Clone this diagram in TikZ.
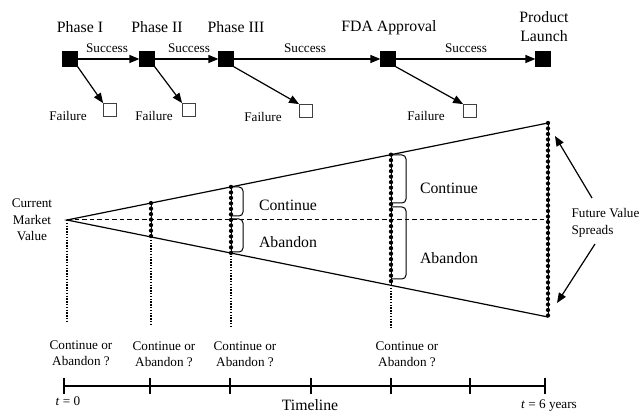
\documentclass[tikz,border=0pt]{standalone}
\usepackage{fontspec}
\setmainfont{Liberation Serif}
\usetikzlibrary{arrows.meta, positioning, calc}
\tikzset{
  bigtext/.style={inner sep=0pt, font=\fontsize{15.8}{19}\selectfont, align=center}
}
\tikzset{
  smalltext/.style={inner sep=0pt, font=\fontsize{13.2}{16.5}\selectfont, align=center}
}
\tikzset{
  phasebox/.style={draw, fill=black, minimum size=14pt, inner sep=0pt},
  failbox/.style={draw=black!75, fill=white, minimum size=13pt, inner sep=0pt, line width=0.8pt},
  dotchain/.style={line width=4.3pt, line cap=round, dash pattern=on 0pt off 5.5pt},
  thindots/.style={line width=1.4pt, dash pattern=on 1.4pt off 1.4pt},
  bracket/.style={line width=1pt, rounded corners=4pt}
}

\begin{document}
\begin{tikzpicture}[x=1pt, y=-1pt, >={Triangle[length=10pt,width=8pt]}, line width=1.2pt]
      \useasboundingbox (0,0) rectangle (643,414);
      % phases of the drug
      \node[phasebox] (p1) at (70,59) {};
      \node[phasebox] (p2) at (147,59) {};
      \node[phasebox] (p3) at (226,59) {};
      \node[phasebox] (p4) at (388,59) {};
      \node[phasebox] (p5) at (543,59) {};
      \node[bigtext] (n1) at (80,27) {Phase I};
      \node[bigtext] (n2) at (157,27) {Phase II};
      \node[bigtext] (n3) at (236,27) {Phase III};
      \node[bigtext] (n4) at (389,28) {FDA Approval};
      \node[bigtext] (n5) at (544,27) {Product\\Launch};
      \draw[->] (p1) -- (p2);
      \draw[->] (p2) -- (p3);
      \draw[->] (p3) -- (p4);
      \draw[->] (p4) -- (p5);
      \node[smalltext] (s1) at (107,48) {Success};
      \node[smalltext] (s2) at (189,48) {Success};
      \node[smalltext] (s3) at (305,48) {Success};
      \node[smalltext] (s4) at (466,48) {Success};
      % failures
      \node[failbox] (f1) at (110,110) {};
      \node[failbox] (f2) at (189,110) {};
      \node[failbox] (f3) at (306,111) {};
      \node[failbox] (f4) at (470,111) {};
      \draw[->] (p1.south east) -- (f1.north west);
      \draw[->] (p2.south east) -- (f2.north west);
      \draw[->] (p3.south east) -- (f3.north west);
      \draw[->] (p4.south east) -- (f4.north west);
      \node[smalltext] (x1) at (68,116) {Failure};
      \node[smalltext] (x2) at (154,116) {Failure};
      \node[smalltext] (x3) at (263,117) {Failure};
      \node[smalltext] (x4) at (426,116) {Failure};
      % value cone
      \coordinate (cmv) at (67,220);
      \coordinate (hi) at (548,123);
      \coordinate (lo) at (548,317);
      \coordinate (mid) at (548,220);
      \draw (hi) -- (cmv) -- (lo);
      \draw[line width=1pt, dash pattern=on 4.5pt off 3pt] (cmv) -- (mid);
      \foreach \x in {151,231,391,548} {
        \pgfmathsetmacro\h{(\x-67)/481*97}
        \draw[line width=0.8pt] (\x,220-\h) -- (\x,220+\h);
        \draw[dotchain] (\x,220-\h) -- (\x,220+\h);
      }
      \draw[thindots] (cmv) -- (67,322);
      \draw[thindots] (151,237) -- (151,325);
      \draw[thindots] (231,253) -- (231,328);
      \draw[thindots] (391,285) -- (391,328);
      \node[smalltext] (cm) at (32,220) {Current\\Market\\Value};
      % continue or abandon
      \draw[bracket] (231,187) -| (243,202) |- (231,216);
      \draw[bracket] (231,219) -| (243,236) |- (231,252);
      \draw[bracket] (391,155) -| (406,180) |- (391,203);
      \draw[bracket] (391,207) -| (406,243) |- (391,279);
      \node[bigtext] (c3) at (288,205) {Continue};
      \node[bigtext] (a3) at (288,242) {Abandon};
      \node[bigtext] (c4) at (449,188) {Continue};
      \node[bigtext] (a4) at (449,258) {Abandon};
      \node[smalltext, align=left, anchor=west] (fvs) at (571,223) {Future Value\\Spreads};
      \coordinate (fu) at (592,198);
      \coordinate (fd) at (595,244);
      \draw[->] (fu) -- (555,136);
      \draw[->] (fd) -- (557,303);
      \node[smalltext] (q1) at (81,353) {Continue or\\Abandon ?};
      \node[smalltext] (q2) at (164,354) {Continue or\\Abandon ?};
      \node[smalltext] (q3) at (245,354) {Continue or\\Abandon ?};
      \node[smalltext] (q4) at (407,354) {Continue or\\Abandon ?};
      % timeline
      \draw[line width=1.5pt] (64,386) -- (545,386);
      \foreach \x in {64,150,230,311,391,470,545}
        \draw[line width=1.5pt] (\x,378) -- (\x,394);
      \node[smalltext] (t0) at (68,401) {\textit{t} = 0};
      \node[bigtext] (tl) at (310,405) {Timeline};
      \node[smalltext] (t6) at (549,406) {\textit{t} = 6 years};
    \end{tikzpicture}
\end{document}
